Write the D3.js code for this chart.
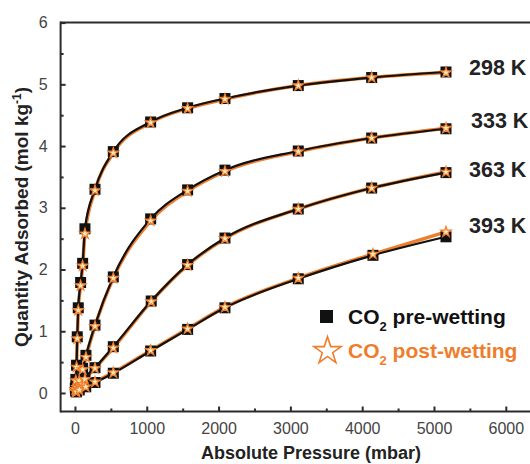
<!DOCTYPE html>
<html><head><meta charset="utf-8">
<script src="https://cdn.jsdelivr.net/npm/d3@7"></script>
<style>body{margin:0;background:#fff}svg{display:block}</style>
</head><body>
<svg id="chart" width="530" height="464"></svg>
<script>
// ---- data ----
const temperatures = ["298 K", "333 K", "363 K", "393 K"];
const pressure298 = [5, 12, 22, 32, 46, 79, 107, 139, 279, 534, 1054, 1569, 2089, 3110, 4132, 5167];
const pre298  = [0.08, 0.22, 0.45, 0.91, 1.38, 1.79, 2.10, 2.66, 3.30, 3.91, 4.39, 4.62, 4.77, 4.98, 5.11, 5.20];
const post298 = [0.06, 0.20, 0.42, 0.88, 1.34, 1.74, 2.06, 2.58, 3.28, 3.89, 4.38, 4.61, 4.76, 4.98, 5.11, 5.19];
const pressure333 = [10, 30, 60, 107, 153, 279, 534, 1054, 1569, 2089, 3110, 4132, 5167];
const pre333  = [0.04, 0.10, 0.22, 0.40, 0.61, 1.10, 1.88, 2.82, 3.29, 3.61, 3.92, 4.13, 4.28];
const post333 = [0.03, 0.09, 0.20, 0.38, 0.58, 1.08, 1.86, 2.79, 3.27, 3.59, 3.91, 4.13, 4.29];
const pressure363 = [15, 50, 100, 139, 279, 534, 1062, 1569, 2089, 3110, 4132, 5167];
const pre363  = [0.02, 0.07, 0.16, 0.24, 0.41, 0.75, 1.49, 2.08, 2.51, 2.98, 3.32, 3.57];
const post363 = [0.02, 0.06, 0.14, 0.22, 0.40, 0.73, 1.48, 2.07, 2.50, 2.98, 3.32, 3.58];
const pressure393 = [20, 60, 150, 279, 534, 1054, 1569, 2089, 3110, 4150, 5167];
const pre393  = [0.02, 0.05, 0.10, 0.17, 0.32, 0.68, 1.03, 1.38, 1.85, 2.23, 2.53];
const post393 = [0.02, 0.05, 0.10, 0.18, 0.33, 0.69, 1.04, 1.39, 1.86, 2.25, 2.61];
const xTicks = [0, 1000, 2000, 3000, 4000, 5000, 6000];
const yTicks = [0, 1, 2, 3, 4, 5, 6];
const legendLabels = ["pre-wetting", "post-wetting"];

const series = [
  {p: pressure298, pre: pre298, post: post298},
  {p: pressure333, pre: pre333, post: post333},
  {p: pressure363, pre: pre363, post: post363},
  {p: pressure393, pre: pre393, post: post393}
];

const ORANGE = "#EE7D2C";
const AXIS = "#2b2b2b";
const FONT = "'Liberation Sans', Arial, sans-serif";

const svg = d3.select("#chart");
const x = d3.scaleLinear().domain([-200, 6500]).range([60.6, 541.7]);
const y = d3.scaleLinear().domain([-0.3, 6]).range([411.5, 22.6]);

// axes lines
svg.append("line").attr("x1", x(-200)).attr("x2", 540).attr("y1", y(6)).attr("y2", y(6))
  .attr("stroke", AXIS).attr("stroke-width", 2);
svg.append("line").attr("x1", x(-200)).attr("x2", 540).attr("y1", y(-0.3)).attr("y2", y(-0.3))
  .attr("stroke", AXIS).attr("stroke-width", 2);
svg.append("line").attr("x1", x(-200)).attr("x2", x(-200)).attr("y1", y(6) - 1).attr("y2", y(-0.3) + 1)
  .attr("stroke", AXIS).attr("stroke-width", 2);

// x ticks (inward)
const xAxis = d3.axisBottom(x).tickValues(xTicks).tickSize(-5).tickPadding(11).tickFormat(d3.format("d"));
const gx = svg.append("g").attr("transform", `translate(0,${y(-0.3)})`).call(xAxis);
gx.select(".domain").remove();
gx.selectAll(".tick line").attr("stroke", AXIS).attr("stroke-width", 2);
gx.selectAll(".tick text").attr("fill", "#444").attr("font-size", 16).attr("font-family", FONT);
const xMinor = d3.axisBottom(x).tickValues([500, 1500, 2500, 3500, 4500, 5500]).tickSize(-3).tickFormat("");
const gxm = svg.append("g").attr("transform", `translate(0,${y(-0.3)})`).call(xMinor);
gxm.select(".domain").remove();
gxm.selectAll(".tick line").attr("stroke", AXIS).attr("stroke-width", 2);

// y ticks (inward)
const yAxis = d3.axisLeft(y).tickValues(yTicks).tickSize(-5).tickPadding(13).tickFormat(d3.format("d"));
const gy = svg.append("g").attr("transform", `translate(${x(-200)},0)`).call(yAxis);
gy.select(".domain").remove();
gy.selectAll(".tick line").attr("stroke", AXIS).attr("stroke-width", 2);
gy.selectAll(".tick text").attr("fill", "#444").attr("font-size", 16).attr("font-family", FONT);
const yMinor = d3.axisLeft(y).tickValues([0.5, 1.5, 2.5, 3.5, 4.5, 5.5]).tickSize(-3).tickFormat("");
const gym = svg.append("g").attr("transform", `translate(${x(-200)},0)`).call(yMinor);
gym.select(".domain").remove();
gym.selectAll(".tick line").attr("stroke", AXIS).attr("stroke-width", 2);

// axis titles
svg.append("text").attr("x", 311).attr("y", 459).attr("text-anchor", "middle")
  .attr("font-family", FONT).attr("font-weight", "bold").attr("font-size", 18).attr("fill", "#222")
  .text("Absolute Pressure (mbar)");
const yt = svg.append("text").attr("transform", "translate(28,217) rotate(-90)").attr("text-anchor", "middle")
  .attr("font-family", FONT).attr("font-weight", "bold").attr("font-size", 19).attr("fill", "#222");
yt.append("tspan").text("Quantity Adsorbed (mol kg");
yt.append("tspan").attr("font-size", 12).attr("dy", -7).text("-1");
yt.append("tspan").attr("dy", 7).text(")");

// curves
const line = d3.line().curve(d3.curveMonotoneX);
const star = d3.symbol().type(d3.symbolStar);
series.forEach(s => {
  const prePts = s.p.map((p, i) => [x(p), y(s.pre[i])]);
  const postPts = s.p.map((p, i) => [x(p), y(s.post[i])]);
  svg.append("path").attr("d", line(postPts)).attr("fill", "none").attr("stroke", ORANGE).attr("stroke-width", 3.5);
  svg.append("path").attr("d", line(prePts)).attr("fill", "none").attr("stroke", "#111").attr("stroke-width", 2.2);
});
series.forEach(s => {
  svg.append("g").selectAll("rect").data(s.p).join("rect")
    .attr("x", (p) => x(p) - 5.5).attr("y", (p, i) => y(s.pre[i]) - 5.5)
    .attr("width", 11).attr("height", 11).attr("fill", "#111");
});
series.forEach(s => {
  svg.append("g").selectAll("path").data(s.p).join("path")
    .attr("d", star.size(34)())
    .attr("transform", (p, i) => `translate(${x(p)},${y(s.post[i])})`)
    .attr("fill", "#FFE9B8").attr("stroke", ORANGE).attr("stroke-width", 1.2);
});

// temperature labels
const labelY = [75, 128, 177, 233];
temperatures.forEach((t, i) => {
  svg.append("text").attr("x", i === 1 ? 471 : 469).attr("y", labelY[i])
    .attr("font-family", FONT).attr("font-weight", "bold").attr("font-size", 21.5).attr("fill", "#222")
    .text(t);
});

// legend
svg.append("rect").attr("x", 320).attr("y", 310).attr("width", 13).attr("height", 13).attr("fill", "#111");
svg.append("path").attr("d", d3.symbol().type(d3.symbolStar).size(230)())
  .attr("transform", "translate(327.5,351)").attr("fill", "#fff").attr("stroke", ORANGE).attr("stroke-width", 1.6);
[[legendLabels[0], 324, "#111"], [legendLabels[1], 358, ORANGE]].forEach(([lab, by, col]) => {
  const t = svg.append("text").attr("x", 348).attr("y", by)
    .attr("font-family", FONT).attr("font-weight", "bold").attr("font-size", 21).attr("fill", col);
  t.append("tspan").text("CO");
  t.append("tspan").attr("font-size", 13).attr("dy", 7).text("2");
  t.append("tspan").attr("dy", -7).text(" " + lab);
});
</script>
</body></html>
